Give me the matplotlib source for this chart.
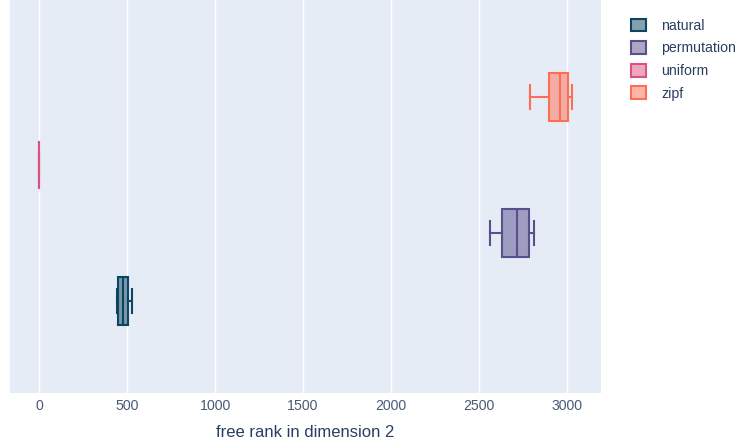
import matplotlib
matplotlib.use("Agg")
import matplotlib.pyplot as plt
from matplotlib.patches import Patch

plt.rcParams["font.family"] = ["Liberation Sans", "DejaVu Sans"]

# Box statistics per distribution: min, q1, median, q3, max
categories = ["natural", "permutation", "uniform", "zipf"]
whisker_lo = [441, 2563, 0, 2790]
q1_vals = [446, 2633, 0, 2896]
medians = [477, 2714, 0, 2960]
q3_vals = [508, 2786, 0, 3008]
whisker_hi = [528, 2814, 0, 3030]
colors = ["#0d4560", "#58508d", "#dd5182", "#ff6e54"]
x_ticks = [0, 500, 1000, 1500, 2000, 2500, 3000]

BG = "#E5ECF6"
TXT = "#2a3f5f"

fig = plt.figure(figsize=(7.38, 4.47), dpi=100)
ax = fig.add_axes([10 / 738, 54 / 447, 591 / 738, 393 / 447])
ax.set_facecolor(BG)

for i, name in enumerate(categories):
    stats = [dict(whislo=whisker_lo[i], q1=q1_vals[i], med=medians[i],
                  q3=q3_vals[i], whishi=whisker_hi[i], fliers=[], label=name)]
    c = colors[i]
    ax.bxp(stats, positions=[i], widths=0.7, vert=False, patch_artist=True,
           showfliers=False,
           boxprops=dict(facecolor=c + "80", edgecolor=c, linewidth=1.5),
           medianprops=dict(color=c, linewidth=1.5),
           whiskerprops=dict(color=c, linewidth=1.5),
           capprops=dict(color=c, linewidth=1.5),
           manage_ticks=False)

ax.set_xlim(-165, 3193)
ax.set_ylim(-1.35, 4.43)
ax.set_xticks(x_ticks)
ax.set_xticklabels([str(t) for t in x_ticks], fontsize=10.2, color="#4a5a75")
ax.set_yticks([])
ax.tick_params(axis="x", length=0, pad=4)
ax.grid(axis="x", color="white", linewidth=1)
ax.set_axisbelow(True)
for s in ax.spines.values():
    s.set_visible(False)
ax.set_xlabel("free rank in dimension 2", fontsize=12, color=TXT, labelpad=9)

handles = [Patch(facecolor=c + "80", edgecolor=c, linewidth=1.5, label=n)
           for n, c in zip(categories, colors)]
fig.legend(handles=handles, loc="upper left", bbox_to_anchor=(618 / 738, 1 - 6 / 447),
           frameon=False, fontsize=10.2, handlelength=1.05, handleheight=1.0,
           handletextpad=1.1, labelspacing=0.59, labelcolor=TXT)

fig.savefig("out.png", dpi=100)
